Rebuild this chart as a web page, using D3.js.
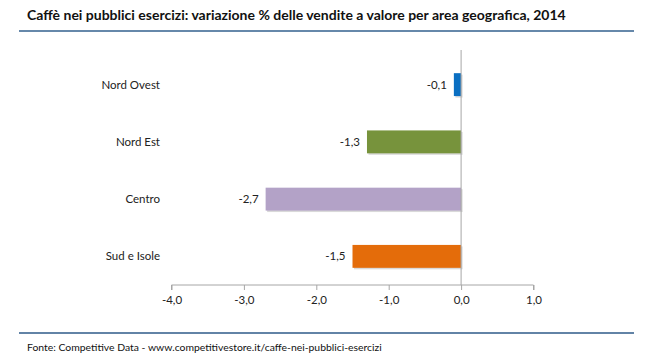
<!DOCTYPE html>
<html><head><meta charset="utf-8">
<script src="https://cdn.jsdelivr.net/npm/d3@7"></script>
<style>body{margin:0;background:#fff}svg{display:block}</style>
</head><body>
<script>
const categories = ["Nord Ovest", "Nord Est", "Centro", "Sud e Isole"];
const values = [-0.1, -1.3, -2.7, -1.5];
const colors = ["#0A6FC2", "#77933C", "#B3A2C7", "#E46C0A"];
const ticks = [-4, -3, -2, -1, 0, 1];
const title = "Caffè nei pubblici esercizi: variazione % delle vendite a valore per area geografica, 2014";
const source = "Fonte: Competitive Data - www.competitivestore.it/caffe-nei-pubblici-esercizi";

const W = 650, H = 356;
const svg = d3.select("body").append("svg").attr("width", W).attr("height", H);
const fmt = v => d3.format(".1f")(v).replace("−", "-").replace(".", ",");

svg.append("text").attr("x", 27).attr("y", 20)
  .attr("font-family", "Lato, 'Open Sans', sans-serif").attr("font-weight", "bold")
  .attr("font-size", 14).attr("fill", "#111").text(title);
svg.append("line").attr("x1", 19).attr("x2", 634).attr("y1", 31).attr("y2", 31)
  .attr("stroke", "#6688AA").attr("stroke-width", 2);
svg.append("line").attr("x1", 19).attr("x2", 634).attr("y1", 333).attr("y2", 333)
  .attr("stroke", "#2E5A88").attr("stroke-width", 1.5);
svg.append("text").attr("x", 27).attr("y", 351)
  .attr("font-family", "Lato, 'Open Sans', sans-serif")
  .attr("font-size", 10.4).attr("fill", "#111").text(source);

const x = d3.scaleLinear().domain([-4, 1]).range([171.5, 533.5]);
const y = d3.scaleBand().domain(categories).range([56, 285]).paddingInner(0.6).paddingOuter(0.3);

const g = svg.append("g");
const data = categories.map((c, i) => ({c, v: values[i], col: colors[i]}));

g.selectAll("rect.sh").data(data).join("rect")
  .attr("x", d => x(d.v) + 1.5).attr("y", d => y(d.c) + 1.5)
  .attr("width", d => x(0) - x(d.v)).attr("height", y.bandwidth())
  .attr("fill", "#000").attr("opacity", 0.15);
g.selectAll("rect.bar").data(data).join("rect")
  .attr("x", d => x(d.v)).attr("y", d => y(d.c))
  .attr("width", d => x(0) - x(d.v)).attr("height", y.bandwidth())
  .attr("fill", d => d.col);

g.append("line").attr("x1", x(0)).attr("x2", x(0)).attr("y1", 50).attr("y2", 285)
  .attr("stroke", "#A6A6A6").attr("stroke-width", 1);

const xa = svg.append("g").attr("transform", "translate(0,285)")
  .call(d3.axisBottom(x).tickValues(ticks).tickSize(5).tickPadding(6).tickFormat(fmt));
xa.select(".domain").attr("stroke", "#A6A6A6").attr("d", `M${x(-4)},5V0H${x(1)}V5`);
xa.selectAll(".tick line").attr("stroke", "#A6A6A6");
xa.selectAll("text").attr("font-family", "Lato, 'Open Sans', sans-serif").attr("font-size", 11.5).attr("fill", "#222");

svg.selectAll("text.cat").data(data).join("text")
  .attr("x", 160).attr("y", d => y(d.c) + y.bandwidth() / 2).attr("dy", "0.35em")
  .attr("text-anchor", "end").attr("font-family", "Lato, 'Open Sans', sans-serif")
  .attr("font-size", 11.5).attr("fill", "#222").text(d => d.c);

svg.selectAll("text.val").data(data).join("text")
  .attr("x", d => x(d.v) - 7).attr("y", d => y(d.c) + y.bandwidth() / 2).attr("dy", "0.35em")
  .attr("text-anchor", "end").attr("font-family", "Lato, 'Open Sans', sans-serif")
  .attr("font-size", 11.5).attr("fill", "#222").text(d => fmt(d.v));
</script>
</body></html>
